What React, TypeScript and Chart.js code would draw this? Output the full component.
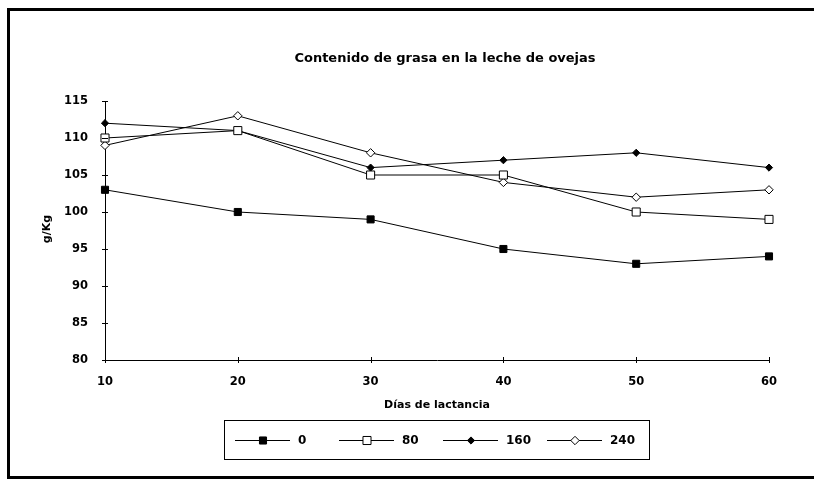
import { useEffect, useRef } from 'react';
import { Chart, registerables } from 'chart.js';

Chart.register(...registerables);

const days = [10, 20, 30, 40, 50, 60];
const series0 = [103, 100, 99, 95, 93, 94];
const series80 = [110, 111, 105, 105, 100, 99];
const series160 = [112, 111, 106, 107, 108, 106];
const series240 = [109, 113, 108, 104, 102, 103];
const seriesLabels = ['0', '80', '160', '240'];
const chartTitle = 'Contenido de grasa en la leche de ovejas';
const xTitle = 'Días de lactancia';
const yTitle = 'g/Kg';
const yMin = 80;
const yMax = 115;
const yStep = 5;
const xMin = 10;
const xMax = 60;
const xStep = 10;

const FONT = "'DejaVu Sans', 'Liberation Sans', Arial, sans-serif";

type MarkerStyle = { shape: 'rect' | 'rectRot'; radius: number; fill: string };
const markers: MarkerStyle[] = [
  { shape: 'rect', radius: 5, fill: '#000' },
  { shape: 'rect', radius: 5.7, fill: '#fff' },
  { shape: 'rectRot', radius: 3.6, fill: '#000' },
  { shape: 'rectRot', radius: 4.2, fill: '#fff' },
];

function drawMarker(ctx: CanvasRenderingContext2D, m: MarkerStyle, x: number, y: number) {
  ctx.beginPath();
  if (m.shape === 'rect') {
    const s = Math.SQRT1_2 * m.radius;
    ctx.rect(x - s, y - s, 2 * s, 2 * s);
  } else {
    const r = m.radius;
    ctx.moveTo(x, y - r);
    ctx.lineTo(x + r, y);
    ctx.lineTo(x, y + r);
    ctx.lineTo(x - r, y);
    ctx.closePath();
  }
  ctx.fillStyle = m.fill;
  ctx.fill();
  ctx.strokeStyle = '#000';
  ctx.lineWidth = 1;
  ctx.stroke();
}

const decorPlugin = {
  id: 'decor',
  afterDraw(chart: any) {
    const ctx: CanvasRenderingContext2D = chart.ctx;
    const ca = chart.chartArea;
    const xs = chart.scales.x;
    const ys = chart.scales.y;
    const W = chart.width;
    ctx.save();
    // frame (left, top, bottom) - open on the right
    ctx.fillStyle = '#000';
    ctx.fillRect(7, 8, W - 7, 3);
    ctx.fillRect(7, 8, 3, 479 - 8);
    ctx.fillRect(7, 476, W - 7, 3);

    // crossing ticks
    ctx.strokeStyle = '#000';
    ctx.lineWidth = 1;
    ys.ticks.forEach((t: any) => {
      const py = Math.round(ys.getPixelForValue(t.value)) + 0.5;
      ctx.beginPath();
      ctx.moveTo(ca.left - 3, py);
      ctx.lineTo(ca.left + 3, py);
      ctx.stroke();
    });
    xs.ticks.forEach((t: any) => {
      const px = Math.round(xs.getPixelForValue(t.value)) + 0.5;
      ctx.beginPath();
      ctx.moveTo(px, ca.bottom - 3);
      ctx.lineTo(px, ca.bottom + 3);
      ctx.stroke();
    });

    // title
    ctx.fillStyle = '#000';
    ctx.textAlign = 'center';
    ctx.textBaseline = 'middle';
    ctx.font = `bold 13px ${FONT}`;
    ctx.fillText(chartTitle, 445, 59);

    // x title
    ctx.font = `bold 11px ${FONT}`;
    ctx.fillText(xTitle, (ca.left + ca.right) / 2, 405);

    // y title
    ctx.save();
    ctx.translate(47, 229);
    ctx.rotate(-Math.PI / 2);
    ctx.fillText(yTitle, 0, 0);
    ctx.restore();

    // legend box
    ctx.strokeStyle = '#000';
    ctx.lineWidth = 1;
    ctx.strokeRect(224.5, 420.5, 425, 39);
    const ly = 440;
    ctx.font = `bold 12px ${FONT}`;
    ctx.textAlign = 'left';
    chart.data.datasets.forEach((ds: any, i: number) => {
      const start = 235 + i * 104;
      ctx.beginPath();
      ctx.moveTo(start, ly + 0.5);
      ctx.lineTo(start + 55, ly + 0.5);
      ctx.strokeStyle = '#000';
      ctx.lineWidth = 1;
      ctx.stroke();
      drawMarker(ctx, markers[i], start + 28, ly + 0.5);
      ctx.fillStyle = '#000';
      ctx.fillText(ds.label, start + 63, ly + 1);
    });
    ctx.restore();
  },
};

export default function App() {
  const ref = useRef<HTMLCanvasElement | null>(null);
  useEffect(() => {
    if (!ref.current) return;
    const all = [series0, series80, series160, series240];
    const chart = new Chart(ref.current, {
      type: 'line',
      data: {
        datasets: all.map((s, i) => ({
          label: seriesLabels[i],
          data: days.map((d, j) => ({ x: d, y: s[j] })),
          borderColor: '#000',
          borderWidth: 1,
          tension: 0,
          fill: false,
          pointStyle: markers[i].shape,
          pointRadius: markers[i].radius,
          pointHoverRadius: markers[i].radius,
          pointBackgroundColor: markers[i].fill,
          pointBorderColor: '#000',
          pointBorderWidth: 1,
          clip: false as any,
        })),
      },
      options: {
        animation: false,
        responsive: true,
        maintainAspectRatio: false,
        layout: { padding: { top: 101, right: 45, left: 0, bottom: 0 } },
        plugins: {
          legend: { display: false },
          title: { display: false },
          tooltip: { enabled: false },
        },
        scales: {
          x: {
            type: 'linear',
            min: xMin,
            max: xMax,
            ticks: {
              stepSize: xStep,
              color: '#000',
              font: { family: FONT, size: 11.5, weight: 'bold' },
              padding: 15,
              maxRotation: 0,
            },
            grid: { display: true, drawOnChartArea: false, drawTicks: false },
            border: { display: true, color: '#000', width: 1 },
            afterFit: (s: any) => {
              s.height = 120;
            },
          },
          y: {
            type: 'linear',
            min: yMin,
            max: yMax,
            ticks: {
              stepSize: yStep,
              color: '#000',
              font: { family: FONT, size: 11.5, weight: 'bold' },
              padding: 17,
            },
            grid: { display: true, drawOnChartArea: false, drawTicks: false },
            border: { display: true, color: '#000', width: 1 },
            afterFit: (s: any) => {
              s.width = 105;
            },
          },
        },
      },
      plugins: [decorPlugin],
    });
    return () => chart.destroy();
  }, []);
  return (
    <div style={{ position: 'fixed', left: 0, top: 0, width: '100vw', height: '100vh', background: '#fff', overflow: 'hidden' }}>
      <canvas ref={ref} />
    </div>
  );
}
